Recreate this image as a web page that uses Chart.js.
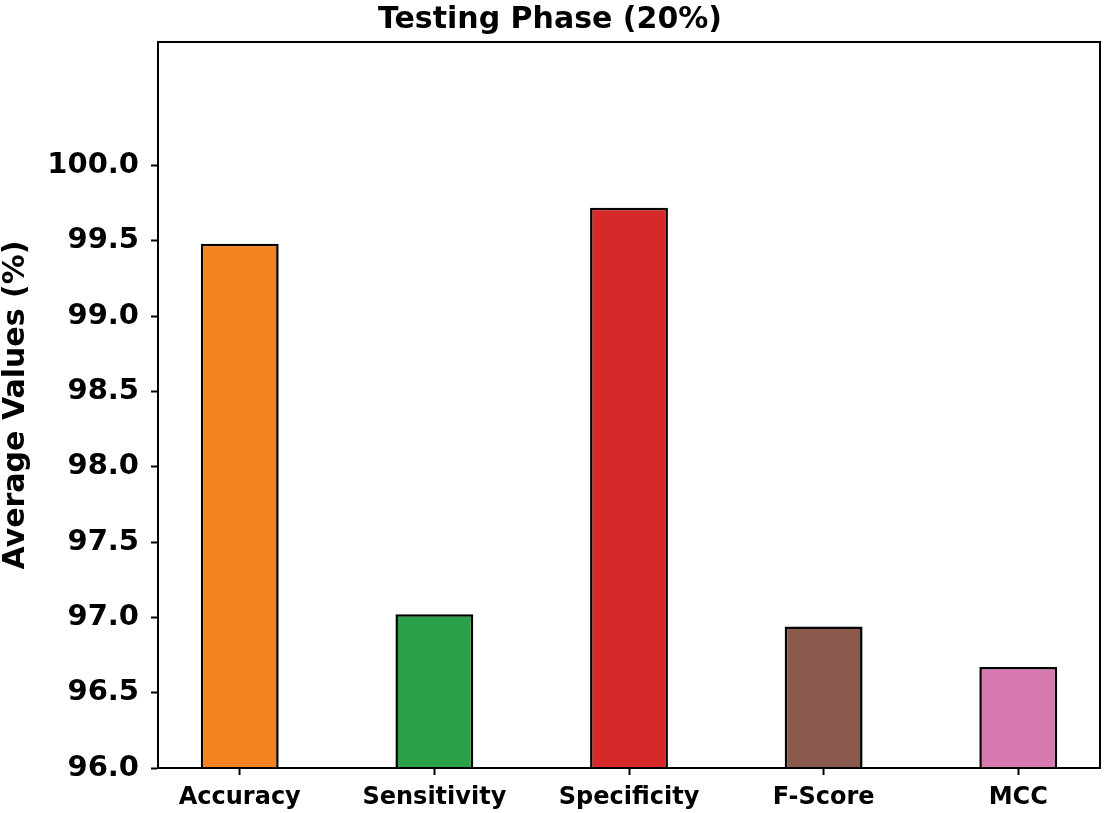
<!DOCTYPE html>
<html>
<head>
<meta charset="utf-8">
<script src="https://cdn.jsdelivr.net/npm/chart.js@4"></script>
<style>
  body { margin: 0; background: #fff; }
  canvas { display: block; }
</style>
</head>
<body>
<canvas id="chart" width="1105" height="813"></canvas>
<script>
// values
var metrics = ["Accuracy", "Sensitivity", "Specificity", "F-Score", "MCC"];
var avgValues = [99.48, 97.02, 99.72, 96.94, 96.67];
var barColors = ["#f58220", "#2ca048", "#d62a2a", "#8c5a4c", "#d879b0"];
var yTicks = [96.0, 96.5, 97.0, 97.5, 98.0, 98.5, 99.0, 99.5, 100.0];

var font = "DejaVu Sans";

// draw the box round the plot like matplotlib spines
var framePlugin = {
    id: "frame",
    afterDatasetsDraw: function(chart) {
        var a = chart.chartArea;
        var ctx = chart.ctx;
        ctx.save();
        ctx.strokeStyle = "#000";
        ctx.lineWidth = 2;
        ctx.strokeRect(a.left, a.top, a.right - a.left, a.bottom - a.top);
        ctx.restore();
    }
};

var points = metrics.map(function(m, i) {
    return { x: i, y: avgValues[i] };
});

new Chart(document.getElementById("chart"), {
    type: "bar",
    data: {
        datasets: [{
            data: points,
            backgroundColor: barColors,
            borderColor: "#000",
            borderWidth: 2.5,
            borderSkipped: false,
            barPercentage: 0.4,
            categoryPercentage: 1.0
        }]
    },
    options: {
        responsive: false,
        animation: false,
        devicePixelRatio: 1,
        layout: { padding: { left: 0, right: 5, top: 0, bottom: 0 } },
        plugins: {
            legend: { display: false },
            tooltip: { enabled: false },
            title: {
                display: true,
                text: "Testing Phase (20%)",
                color: "#000",
                font: { family: font, size: 30, weight: "bold" },
                padding: { top: 2, bottom: 4 }
            }
        },
        scales: {
            x: {
                type: "linear",
                min: -0.42,
                max: 4.42,
                offset: false,
                afterBuildTicks: function(scale) {
                    scale.ticks = metrics.map(function(m, i) { return { value: i }; });
                },
                afterFit: function(scale) { scale.height = 45; },
                grid: {
                    offset: false,
                    drawOnChartArea: false,
                    drawTicks: true,
                    tickLength: 7,
                    tickColor: "#000",
                    tickWidth: 2
                },
                border: { display: true, color: "#000", width: 2 },
                ticks: {
                    color: "#000",
                    padding: 8,
                    maxRotation: 0,
                    autoSkip: false,
                    font: { family: font, size: 24, weight: "bold" },
                    callback: function(v) { return metrics[v]; }
                }
            },
            y: {
                min: 96,
                max: 100.82,
                afterBuildTicks: function(scale) {
                    scale.ticks = yTicks.map(function(v) { return { value: v }; });
                },
                afterFit: function(scale) { scale.width = 158; },
                grid: {
                    drawOnChartArea: false,
                    drawTicks: true,
                    tickLength: 7,
                    tickColor: "#000",
                    tickWidth: 2
                },
                border: { display: true, color: "#000", width: 2 },
                title: {
                    display: true,
                    text: "Average Values (%)",
                    color: "#000",
                    font: { family: font, size: 30, weight: "bold" },
                    padding: { top: -2, bottom: 0 }
                },
                ticks: {
                    color: "#000",
                    padding: 12,
                    font: { family: font, size: 29, weight: "bold" },
                    callback: function(v) { return Number(v).toFixed(1); }
                }
            }
        }
    },
    plugins: [framePlugin]
});
</script>
</body>
</html>
